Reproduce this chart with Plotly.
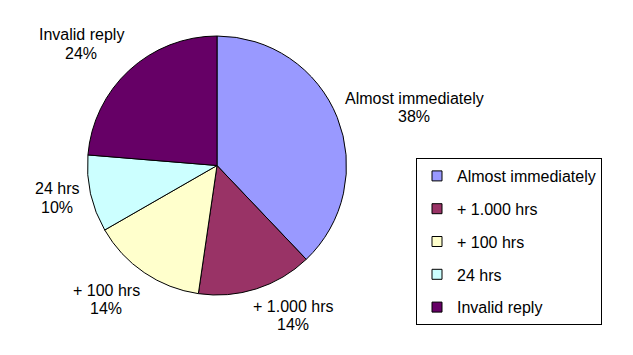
import plotly.graph_objects as go

categories = ["Almost immediately", "+ 1.000 hrs", "+ 100 hrs", "24 hrs", "Invalid reply"]
values = [37.9, 14.4, 14.4, 9.6, 23.7]
colors = ["#9999FF", "#993366", "#FFFFCC", "#CCFFFF", "#660066"]
# label annotation positions (pixels, from top-left)
label_pos = [(414, 107), (293, 315), (106, 299), (57, 198), (81, 44)]

W, H = 633, 355
FONT = "Arial, Liberation Sans, sans-serif"

cx, cy, r = 217, 165.5, 129.5

fig = go.Figure()
fig.add_trace(go.Pie(
    labels=categories, values=values, sort=False, direction="clockwise", rotation=0,
    marker=dict(colors=colors, line=dict(color="black", width=1)),
    textinfo="none", showlegend=False, hoverinfo="label+percent",
    domain=dict(x=[(cx - r) / W, (cx + r) / W], y=[(H - cy - r) / H, (H - cy + r) / H]),
))

for i, (cat, col) in enumerate(zip(categories, colors)):
    fig.add_trace(go.Scatter(
        x=[None], y=[None], mode="markers", name=cat, legendgroup=f"g{i}",
        marker=dict(symbol="square", size=10, color=col, line=dict(color="black", width=1)),
        showlegend=True,
    ))

total = sum(values)
for cat, v, (px, py) in zip(categories, values, label_pos):
    pct = round(v / total * 100)
    for txt, dy in ((cat, -9), (f"{pct}%", 9)):
        fig.add_annotation(
            x=px / W, y=1 - (py + dy) / H, xref="paper", yref="paper",
            text=txt, showarrow=False, align="center",
            font=dict(family=FONT, size=16, color="black"),
            xanchor="center", yanchor="middle",
        )

fig.update_layout(
    width=W, height=H, margin=dict(l=0, r=0, t=0, b=0),
    paper_bgcolor="white", plot_bgcolor="white",
    font=dict(family=FONT, size=16, color="black"),
    xaxis=dict(visible=False), yaxis=dict(visible=False),
    legend=dict(
        x=416 / W, y=1 - 158 / H, xanchor="left", yanchor="top",
        bordercolor="black", borderwidth=1, bgcolor="white",
        font=dict(family=FONT, size=16, color="black"),
        tracegroupgap=9, traceorder="grouped",
    ),
)

fig.write_html("out.html")
